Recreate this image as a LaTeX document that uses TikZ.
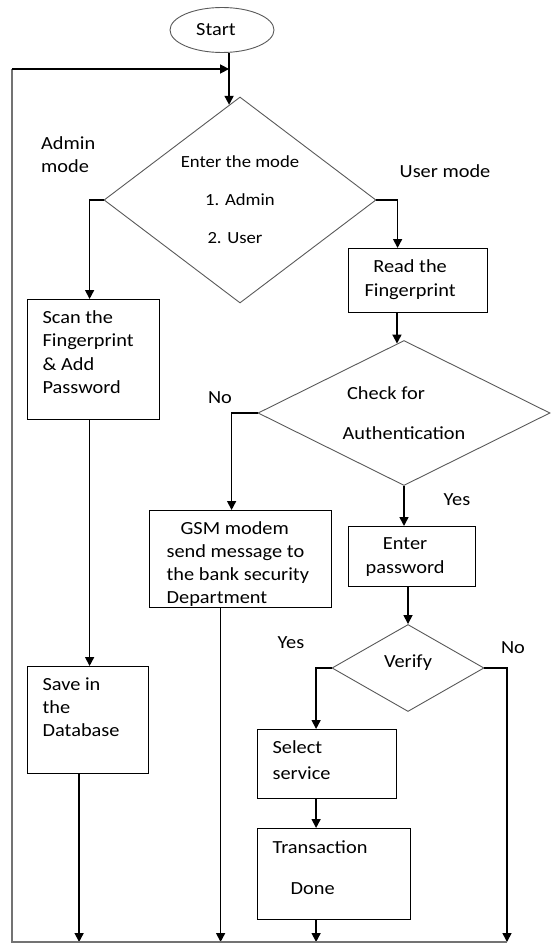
\documentclass[tikz,border=0pt]{standalone}
\usepackage{fontspec}
\setmainfont{Carlito}[FakeStretch=1.1]
\usetikzlibrary{arrows.meta,shapes.geometric,calc}
\tikzset{
  basefont/.style={font=\fontsize{18.5}{23}\selectfont, text=black},
  boxst/.style={basefont, draw=black, line width=1.2pt, inner sep=0pt, anchor=north west},
  dia/.style={basefont, diamond, draw=black!65, line width=0.9pt, inner sep=0pt, align=center},
  lbl/.style={basefont, inner sep=0pt},
  conn/.style={draw=black, line width=1.6pt, -{Triangle[length=9pt,width=9pt]}},
  plain/.style={draw=black, line width=1.6pt},
  loopline/.style={draw=black!55, line width=1.6pt}
}
\begin{document}
\begin{tikzpicture}[x=1pt,y=-1pt]
\useasboundingbox (0,0) rectangle (550,944);

% start
\node[basefont, ellipse, draw=black!65, line width=0.9pt, minimum width=104pt, minimum height=45pt, inner sep=0pt] (start) at (222,30) {Start\hspace*{12pt}};

% decision 1
\node[dia, aspect=1.32, minimum width=272pt, minimum height=206pt, font=\fontsize{17}{38}\selectfont] (d1) at (240,200) {Enter the mode\\1. Admin\hspace*{10pt}\\2. User\hspace*{10pt}};

% admin side
\node[boxst] (scan) at (27,299) {\parbox[c][120pt][t]{132pt}{\raggedright\leftskip=15pt\baselineskip=23.3pt\rule{0pt}{24pt}Scan the\\Fingerprint\\\& Add\\Password}};
\node[boxst] (save) at (27,666) {\parbox[c][107pt][t]{121pt}{\raggedright\leftskip=15pt\baselineskip=23pt\rule{0pt}{24pt}Save in\\the\\Database}};

% user side
\node[boxst] (read) at (348,248) {\parbox[c][64pt][t]{139pt}{\centering\rightskip=16pt plus 1fil\baselineskip=24pt\rule{0pt}{24pt}Read the\\Fingerprint}};
\node[dia, aspect=2.0, minimum width=292pt, minimum height=145pt, font=\fontsize{18.5}{40}\selectfont] (d2) at (404,413) {Check for\hspace*{36pt}\\Authentication};

\node[boxst] (gsm) at (149,510) {\parbox[c][97pt][t]{182pt}{\raggedright\leftskip=17pt\baselineskip=23pt\rule{0pt}{24pt}\hspace*{14pt}GSM modem\\send message to\\the bank security\\Department}};
\node[boxst] (enter) at (348,526) {\parbox[c][60pt][t]{127pt}{\centering\rightskip=14pt plus 1fil\baselineskip=24pt\rule{0pt}{23pt}Enter\\password}};

\node[dia, aspect=1.75, minimum width=152pt, minimum height=87pt, text depth=14pt] (verify) at (408,668) {Verify};

\node[boxst] (select) at (257,729) {\parbox[c][69pt][t]{139pt}{\raggedright\leftskip=15pt\baselineskip=26pt\rule{0pt}{24pt}Select\\service}};
\node[boxst] (trans) at (257,828) {\parbox[c][91pt][t]{153pt}{\raggedright\leftskip=15pt\baselineskip=41pt\rule{0pt}{25pt}Transaction\\\hspace*{18pt}Done}};

% labels
\node[lbl, anchor=west, align=left] (adminlbl) at (41,155) {Admin\\mode};
\node[lbl] (userlbl) at (445,171) {User mode};
\node[lbl] (no1) at (220,398) {No};
\node[lbl] (yes1) at (457,500) {Yes};
\node[lbl] (yes2) at (291,643) {Yes};
\node[lbl] (no2) at (513,648) {No};

% coordinates
\coordinate (d1in) at ($(d1.north)!0.08!(d1.west)$);
\coordinate (in) at (d1in |- 0,69);
\coordinate (d2in) at ($(d2.north)!0.048!(d2.west)$);
\coordinate (botL) at (12,942);
\coordinate (botR) at (507,942);

% connectors
\draw[plain] (start.south -| in) -- (in);
\draw[conn] (in) -- (d1in);
\draw[conn] (d1.west) -| ([xshift=-4pt]scan.north);
\draw[conn] ([xshift=-4pt]scan.south) -- ([xshift=-4pt]scan.south |- save.north);
\draw[conn] ([xshift=-9pt]save.south) -- ([xshift=-9pt]save.south |- botL);
\draw[conn] (d1.east) -| ([xshift=-20.5pt]read.north);
\draw[conn] (read.south -| d2in) -- (d2in);
\draw[conn] (d2.west) -| ([xshift=-9pt]gsm.north);
\draw[conn] ([xshift=-20pt]gsm.south) -- ([xshift=-20pt]gsm.south |- botL);
\draw[conn] (d2.south) -- (d2.south |- enter.north);
\draw[conn] (enter.south -| verify.north) -- (verify.north);
\draw[conn] (verify.west) -| ([xshift=-11pt]select.north);
\draw[conn] ([xshift=-11pt]select.south) -- ([xshift=-11pt]select.south |- trans.north);
\draw[conn] ([xshift=-11pt]select.south |- trans.south) -- ([xshift=-11pt]select.south |- botL);
\draw[conn] (verify.east) -| (botR);

% return loop
\draw[loopline] (botR) -- (botL) -- (botL |- in);
\draw[conn] (botL |- in) -- (in);
\end{tikzpicture}
\end{document}
